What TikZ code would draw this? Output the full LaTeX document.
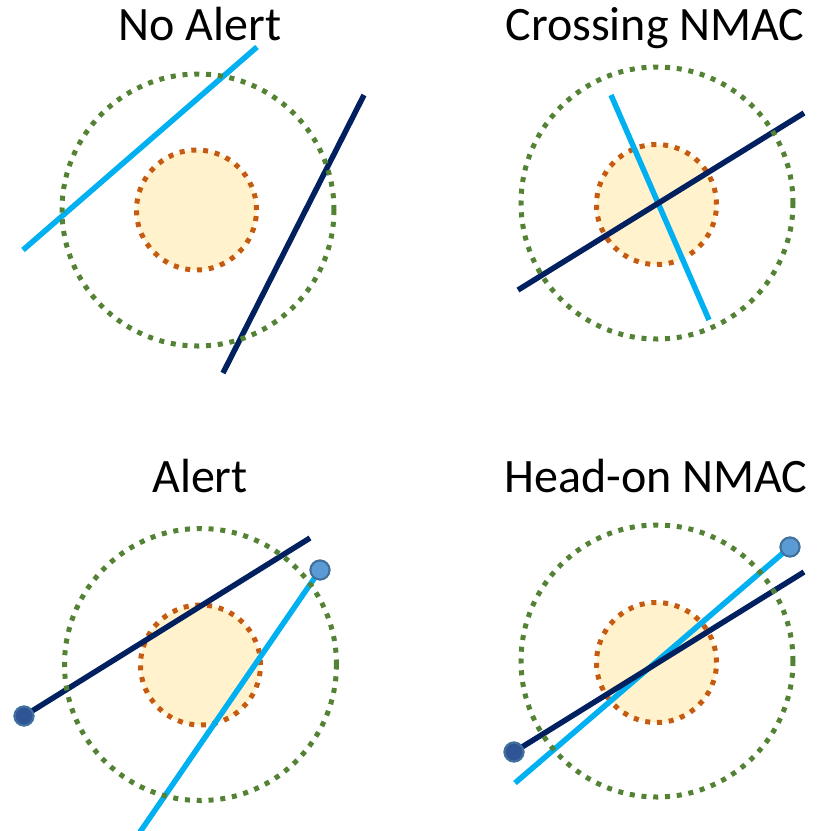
\documentclass[tikz,border=0pt]{standalone}
\usepackage{fontspec}
\setmainfont{Carlito}
\definecolor{ringgreen}{HTML}{548235}
\definecolor{coreorange}{HTML}{C55A11}
\definecolor{corefill}{HTML}{FFF2CC}
\definecolor{ownship}{HTML}{002060}
\definecolor{intruder}{HTML}{00B0F0}
\definecolor{dotlight}{HTML}{5B9BD5}
\definecolor{dotdark}{HTML}{2F5597}
\definecolor{dotrim}{HTML}{41719C}

\begin{document}
\begin{tikzpicture}[x=1pt,y=-1pt,
		title/.style={font=\fontsize{48}{52}\selectfont,anchor=base,inner sep=0pt},
		core/.style={circle,draw=coreorange,fill=corefill,line width=5pt,dash pattern=on 5pt off 6.8pt,minimum size=120pt,inner sep=0pt},
		ring/.style={circle,draw=ringgreen,line width=5pt,dash pattern=on 5pt off 6.8pt,minimum size=272pt,inner sep=0pt},
		owntrack/.style={draw=ownship,line width=5.5pt},
		inttrack/.style={draw=intruder,line width=5.5pt},
		ownpos/.style={circle,fill=dotdark,draw=dotrim,line width=2pt,minimum size=19pt,inner sep=0pt},
		intpos/.style={circle,fill=dotlight,draw=dotrim,line width=2pt,minimum size=19pt,inner sep=0pt}]
	\useasboundingbox (0,0) rectangle (817,831);

	% titles
	\node[title] (tNoAlert) at (200,40) {No Alert};
	\node[title] (tCrossing) at (655,40) {Crossing NMAC};
	\node[title] (tAlert) at (200,492) {Alert};
	\node[title] (tHeadOn) at (656,492) {Head-on NMAC};

	% inner zones
	\node[core] (coreA) at (196.5,210) {};
	\node[core] (coreB) at (656.5,204.5) {};
	\node[core] (coreC) at (200.5,665) {};
	\node[core] (coreD) at (656.5,662.5) {};

	% track ends
	\coordinate (intA1) at (23,250);
	\coordinate (intA2) at (257,47);
	\coordinate (ownA1) at (364,95);
	\coordinate (ownA2) at (223,373);
	\coordinate (intB1) at (611,95);
	\coordinate (intB2) at (709,320);
	\coordinate (ownB1) at (518,290);
	\coordinate (ownB2) at (804,113);
	\coordinate (ownC2) at (310,538);
	\coordinate (intC2) at (140,832);
	\coordinate (intD1) at (515,783);
	\coordinate (ownD2) at (804,572);

	\node[ownpos] (ownC) at (24,716) {};
	\node[intpos] (intC) at (320,570) {};
	\node[ownpos] (ownD) at (514,752) {};
	\node[intpos] (intD) at (790,547) {};

	% tracks
	\draw[inttrack] (intA1) -- (intA2);
	\draw[owntrack] (ownA1) -- (ownA2);
	\draw[inttrack] (intB1) -- (intB2);
	\draw[owntrack] (ownB1) -- (ownB2);
	\draw[owntrack] (ownC.center) -- (ownC2);
	\draw[inttrack] (intC.center) -- (intC2);
	\draw[inttrack] (intD1) -- (intD.center);
	\draw[owntrack] (ownD.center) -- (ownD2);

	% outer zones
	\node[ring] (ringA) at (198,210) {};
	\node[ring] (ringB) at (657,203) {};
	\node[ring] (ringC) at (200.5,664.5) {};
	\node[ring] (ringD) at (657,661) {};

	% aircraft
	\node[ownpos] at (ownC.center) {};
	\node[intpos] at (intC.center) {};
	\node[ownpos] at (ownD.center) {};
	\node[intpos] at (intD.center) {};
\end{tikzpicture}
\end{document}
